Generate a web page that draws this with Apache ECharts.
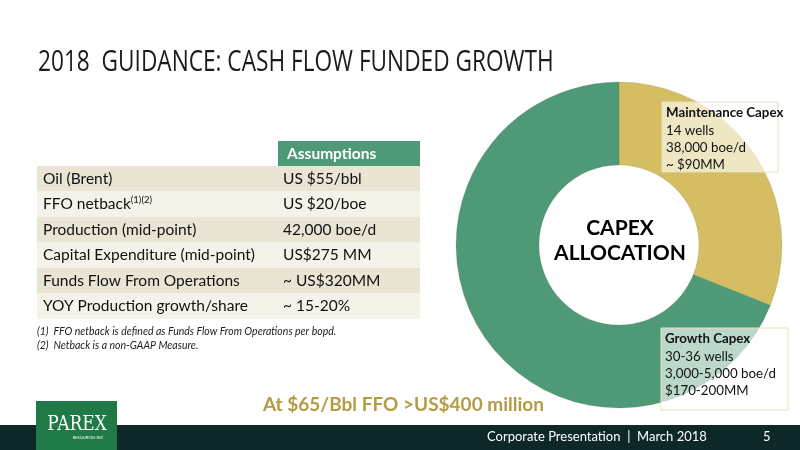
<!DOCTYPE html>
<html><head><meta charset="utf-8">
<script src="https://cdn.jsdelivr.net/npm/echarts@6/dist/echarts.min.js"></script>
<style>html,body{margin:0;padding:0;background:#fff}#c{width:800px;height:450px}</style>
</head><body><div id="c"></div>
<script>
// ---- data ----
const titleText = '2018  GUIDANCE: CASH FLOW FUNDED GROWTH';
const capexCategories = ['Maintenance Capex', 'Growth Capex'];
const capexValues = [90, 200];
const maintenanceLines = ['14 wells', '38,000 boe/d', '~ $90MM'];
const growthLines = ['30-36 wells', '3,000-5,000 boe/d', '$170-200MM'];
const tableHeader = 'Assumptions';
const tableLabels = ['Oil (Brent)', 'FFO netback', 'Production (mid-point)', 'Capital Expenditure (mid-point)', 'Funds Flow From Operations', 'YOY Production growth/share'];
const tableValues = ['US $55/bbl', 'US $20/boe', '42,000 boe/d', 'US$275 MM', '~ US$320MM', '~ 15-20%'];
const footnotes = ['(1)  FFO netback is defined as Funds Flow From Operations per bopd.', '(2)  Netback is a non-GAAP Measure.'];
const centerText = ['CAPEX', 'ALLOCATION'];
const highlightText = 'At $65/Bbl FFO >US$400 million';
const footerText = 'Corporate Presentation  |  March 2018';
const pageNumber = '5';

const GREEN = '#4E9A78', GOLD = '#D4BD63';
const FONT = 'Lato';
const chart = echarts.init(document.getElementById('c'), null, {renderer: 'canvas'});

const g = [];
// title
g.push({type: 'text', x: 38, y: 62, style: {text: titleText, font: '400 30px "Open Sans"', fill: '#1b1b1b', textVerticalAlign: 'middle'}, scaleX: 0.755, originX: 0, originY: 0});
// table
const tx = 37, tw = 383, ty = 166, rh = 25.5, vx = 283;
g.push({type: 'rect', shape: {x: 278, y: 141, width: 142, height: 25}, style: {fill: GREEN}});
g.push({type: 'text', x: 287, y: 153.5, style: {text: tableHeader, font: 'bold 15.5px ' + FONT, fill: '#fff', textVerticalAlign: 'middle'}});
tableLabels.forEach((lab, i) => {
  const y = ty + i * rh;
  g.push({type: 'rect', shape: {x: tx, y: y, width: tw, height: rh}, style: {fill: i % 2 === 0 ? '#EAE4D4' : '#F5F2EA'}});
  const labelText = i === 1 ? '{n|' + lab + '}{s|(1)(2)}' : '{n|' + lab + '}';
  g.push({type: 'text', x: 43, y: y + rh / 2, style: {rich: {n: {font: '15.5px ' + FONT, fill: '#111'}, s: {font: '9.5px ' + FONT, fill: '#111', padding: [0, 0, 9, 0]}}, text: labelText, textVerticalAlign: 'middle'}});
  g.push({type: 'text', x: vx, y: y + rh / 2, style: {text: tableValues[i], font: '15.5px ' + FONT, fill: '#111', textVerticalAlign: 'middle'}});
});
footnotes.forEach((t, i) => {
  g.push({type: 'text', x: 37, y: 332 + i * 14, style: {text: t, font: 'italic 10.5px ' + FONT, fill: '#222', textVerticalAlign: 'middle'}});
});
// donut label boxes
function box(x, y, w, h, title, lines) {
  g.push({type: 'rect', z: 10, shape: {x: x, y: y, width: w, height: h}, style: {fill: 'rgba(255,255,255,0.62)', stroke: '#E9E0BE', lineWidth: 1}});
  g.push({type: 'text', z: 11, x: x + 4, y: y + 11, style: {text: title, font: 'bold 13.3px ' + FONT, fill: '#111', textVerticalAlign: 'middle'}});
  lines.forEach((t, i) => g.push({type: 'text', z: 11, x: x + 4, y: y + 28.5 + i * 17, style: {text: t, font: '13.3px ' + FONT, fill: '#111', textVerticalAlign: 'middle'}}));
}
box(662, 102, 116, 70, capexCategories[0], maintenanceLines);
box(661, 328, 127, 82, capexCategories[1], growthLines);
// center text
centerText.forEach((t, i) => g.push({type: 'text', x: 620, y: 228 + i * 25, style: {text: t, font: 'bold 21px ' + FONT, fill: '#000', textAlign: 'center', textVerticalAlign: 'middle'}}));
// highlight
g.push({type: 'text', x: 263, y: 405, style: {text: highlightText, font: 'bold 19px ' + FONT, fill: '#B59C42', textVerticalAlign: 'middle'}});
// footer
g.push({type: 'rect', shape: {x: 0, y: 425, width: 800, height: 25}, style: {fill: '#0E2829'}});
g.push({type: 'rect', shape: {x: 36, y: 401, width: 81, height: 49}, style: {fill: '#1F7A47'}});
g.push({type: 'text', x: 77, y: 425, style: {text: 'PAREX', font: '20px "DejaVu Serif"', fill: '#fff', textAlign: 'center', textVerticalAlign: 'middle'}, scaleX: 0.85, originX: 0});
g.push({type: 'text', x: 88, y: 438, style: {text: 'RESOURCES INC', font: '4px ' + FONT, fill: '#fff', textAlign: 'center', textVerticalAlign: 'middle'}});
g.push({type: 'text', x: 487, y: 437, style: {text: footerText, font: '13px ' + FONT, fill: '#fff', textVerticalAlign: 'middle'}});
g.push({type: 'text', x: 763, y: 437, style: {text: pageNumber, font: '13px ' + FONT, fill: '#fff', textVerticalAlign: 'middle'}});

chart.setOption({
  animation: false,
  backgroundColor: '#fff',
  series: [{
    type: 'pie',
    center: [619, 245],
    radius: [80, 163],
    startAngle: 90,
    clockwise: true,
    silent: true,
    label: {show: false},
    labelLine: {show: false},
    itemStyle: {borderColor: 'rgba(120,110,60,0.35)', borderWidth: 0.5},
    data: capexCategories.map((n, i) => ({name: n, value: capexValues[i], itemStyle: {color: i === 0 ? GOLD : GREEN}}))
  }],
  graphic: g
});
</script></body></html>
